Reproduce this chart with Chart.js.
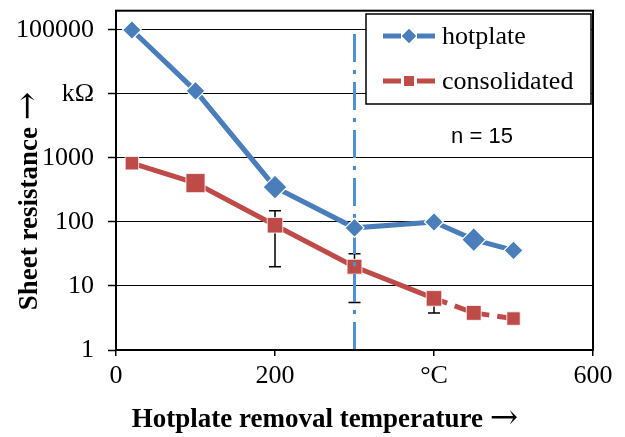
<!DOCTYPE html>
<html>
<head>
<meta charset="utf-8">
<script src="https://cdn.jsdelivr.net/npm/chart.js@4/dist/chart.umd.min.js"></script>
<style>
  html, body { margin: 0; padding: 0; background: #fff; }
  #wrap { width: 625px; height: 437px; position: relative; }
</style>
</head>
<body>
<div id="wrap"><canvas id="chart"></canvas></div>
<script>
// temperatures (°C) and sheet resistance values
var temps = [20, 100, 200, 300, 400, 450, 500];
var hotplate = [100000, 11200, 350, 81, 100, 53, 36];
var consolidated = [830, 405, 89, 20, 6.4, 3.8, 3.1];
// error bar ends for consolidated (null = none drawn)
var errLow = [null, null, 20, 5.5, 3.8, null, null];
var errHigh = [null, null, 150, 32, null, null, null];

var yTicks = [1, 10, 100, 1000, 10000, 100000];
var yTickLabels = ['1', '10', '100', '1000', 'k\u03A9', '100000'];
var xTicks = [0, 200, 400, 600];
var xTickLabels = ['0', '200', '\u00B0C', '600'];

var cutoffTemp = 300;
var cutoffTop = 110000;

var blue = '#4A7EBB';
var red = '#BE4B48';
var serif = '"Liberation Serif", "Times New Roman", serif';

// bold title followed by a plain arrow, centred on (0, 0) of the current transform
function drawTitle(ctx, text) {
  var bold = 'bold 27px ' + serif;
  var arrowFont = '34px "DejaVu Serif", serif';
  ctx.font = bold;
  var w1 = ctx.measureText(text + ' ').width;
  ctx.font = arrowFont;
  var w2 = ctx.measureText('\u2192').width;
  var x0 = -(w1 + w2) / 2;
  ctx.textAlign = 'left';
  ctx.textBaseline = 'alphabetic';
  ctx.font = bold;
  ctx.fillText(text + ' ', x0, 9);
  ctx.font = arrowFont;
  ctx.fillText('\u2192', x0 + w1, 10);
}

var frameAndText = {
  id: 'frameAndText',
  beforeDatasetsDraw: function (chart) {
    // error bars go under the lines
    var ctx = chart.ctx, xs = chart.scales.x, ys = chart.scales.y;
    ctx.save();
    ctx.strokeStyle = '#000';
    ctx.lineWidth = 1.5;
    temps.forEach(function (t, i) {
      var x = xs.getPixelForValue(t);
      var yc = ys.getPixelForValue(consolidated[i]);
      [errLow[i], errHigh[i]].forEach(function (v) {
        if (v == null) return;
        var y = ys.getPixelForValue(v);
        ctx.beginPath();
        ctx.moveTo(x, yc);
        ctx.lineTo(x, y);
        ctx.moveTo(x - 6, y);
        ctx.lineTo(x + 6, y);
        ctx.stroke();
      });
    });
    ctx.restore();
  },
  afterDraw: function (chart) {
    var ctx = chart.ctx, a = chart.chartArea;
    ctx.save();
    // plot frame
    ctx.strokeStyle = '#000';
    ctx.lineWidth = 2;
    ctx.strokeRect(a.left, a.top, a.right - a.left, a.bottom - a.top);

    // legend box
    var lx = 366, ly = 14, lw = 225, lh = 90;
    ctx.fillStyle = '#fff';
    ctx.fillRect(lx, ly, lw, lh);
    ctx.lineWidth = 1.5;
    ctx.strokeRect(lx, ly, lw, lh);
    var rows = [
      { ds: chart.data.datasets[0], y: 36 },
      { ds: chart.data.datasets[2], y: 81 }
    ];
    rows.forEach(function (r) {
      ctx.strokeStyle = r.ds.borderColor;
      ctx.lineWidth = 5;
      ctx.beginPath();
      ctx.moveTo(383, r.y); ctx.lineTo(401, r.y);
      ctx.moveTo(417, r.y); ctx.lineTo(435, r.y);
      ctx.stroke();
      ctx.fillStyle = r.ds.backgroundColor;
      Chart.helpers.drawPoint(ctx, { pointStyle: r.ds.pointStyle, radius: 7, borderWidth: 0 }, 409, r.y);
      ctx.fill();
      ctx.fillStyle = '#000';
      ctx.font = '26px ' + serif;
      ctx.textBaseline = 'middle';
      ctx.textAlign = 'left';
      ctx.fillText(r.ds.label, 442, r.y + 1);
    });

    ctx.fillStyle = '#000';
    ctx.font = '22px "Liberation Sans", Arial, sans-serif';
    ctx.textAlign = 'center';
    ctx.textBaseline = 'alphabetic';
    ctx.fillText('n = 15', 482, 143);

    // axis titles
    ctx.save();
    ctx.translate(325, 418);
    drawTitle(ctx, 'Hotplate removal temperature');
    ctx.restore();
    ctx.translate(28, 201);
    ctx.rotate(-Math.PI / 2);
    drawTitle(ctx, 'Sheet resistance');
    ctx.restore();
  }
};

var config = {
  type: 'line',
  data: {
    datasets: [
      {
        label: 'hotplate',
        data: temps.map(function (t, i) { return { x: t, y: hotplate[i] }; }),
        borderColor: blue,
        backgroundColor: blue,
        borderWidth: 5,
        pointStyle: 'rectRot',
        pointRadius: [9.5, 9.5, 12, 9.5, 9.5, 12, 9.5],
        pointBorderColor: '#fff',
        pointBorderWidth: 1.2,
        order: 0
      },
      {
        label: 'cutoff',
        data: [{ x: cutoffTemp, y: 1 }, { x: cutoffTemp, y: cutoffTop }],
        borderColor: '#4F8FD3',
        borderWidth: 3,
        borderDash: [28, 8, 4, 8],
        pointRadius: 0,
        order: 1
      },
      {
        label: 'consolidated',
        data: temps.map(function (t, i) { return { x: t, y: consolidated[i] }; }),
        borderColor: red,
        backgroundColor: red,
        borderWidth: 5,
        pointStyle: 'rect',
        pointRadius: [9.5, 13.5, 11, 10.5, 11, 10.5, 9.5],
        pointBorderColor: 'rgba(255,255,255,0.8)',
        pointBorderWidth: 1,
        segment: {
          borderDash: function (c) { return c.p0.parsed.x >= 400 ? [14, 8] : undefined; }
        },
        order: 2
      }
    ]
  },
  options: {
    responsive: false,
    animation: false,
    layout: { padding: { top: 10, right: 32, left: 0, bottom: 0 } },
    plugins: { legend: { display: false }, tooltip: { enabled: false } },
    scales: {
      x: {
        type: 'linear',
        min: 0,
        max: 600,
        afterBuildTicks: function (s) { s.ticks = xTicks.map(function (v) { return { value: v }; }); },
        afterFit: function (s) { s.height = 87; s.paddingLeft = 0; s.paddingRight = 0; },
        ticks: {
          callback: function (v) { return xTickLabels[xTicks.indexOf(v)]; },
          font: { family: serif, size: 26 },
          color: '#000',
          padding: 5,
          maxRotation: 0
        },
        grid: { drawOnChartArea: false, color: '#000', tickLength: 6, lineWidth: 1.5 },
        border: { color: '#000', width: 2 }
      },
      y: {
        type: 'logarithmic',
        min: 1,
        max: 200000,
        afterBuildTicks: function (s) { s.ticks = yTicks.map(function (v) { return { value: v }; }); },
        afterFit: function (s) { s.width = 116; s.paddingTop = 0; s.paddingBottom = 0; },
        ticks: {
          callback: function (v) { return yTickLabels[yTicks.indexOf(v)]; },
          font: { family: serif, size: 26 },
          color: '#000',
          padding: 14
        },
        grid: {
          color: '#000',
          lineWidth: 1,
          borderDash: [3, 3],
          tickBorderDash: [],
          tickLength: 8,
          tickWidth: 1.5
        },
        border: { color: '#000', width: 2 }
      }
    }
  },
  plugins: [frameAndText]
};

var canvas = document.getElementById('chart');
canvas.width = 625;
canvas.height = 437;
var chart = new Chart(canvas.getContext('2d'), config);
</script>
</body>
</html>
